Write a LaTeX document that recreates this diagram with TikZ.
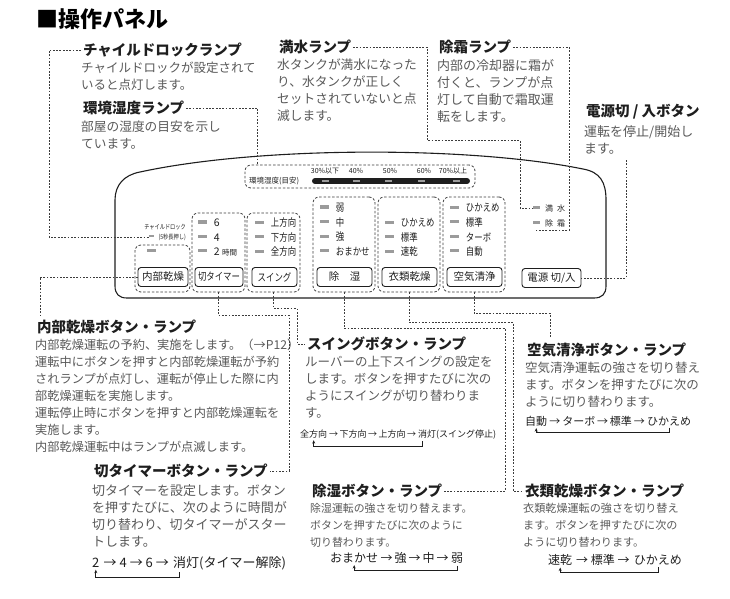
\documentclass[tikz,border=0pt]{standalone}
\usepackage{fontspec}
\setmainfont{Noto Sans CJK JP}
\usepackage{xcolor}
\usepackage{graphicx}
\usepackage{tikz}
\usetikzlibrary{arrows.meta,positioning,calc}
\definecolor{ink}{HTML}{1E1E1E}
\definecolor{txtgray}{HTML}{595959}
\definecolor{lampgray}{HTML}{9B9B9B}
\definecolor{leadgray}{HTML}{3C3C3C}
\newcommand\lampbar{{\color{lampgray}\rule[0.3em]{0.8em}{0.3em}}}
\newcommand\lamp{\lampbar\hspace{0.7em}}
\newcommand\narrow[1]{\scalebox{0.8}[1]{#1}}

\begin{document}
\begin{tikzpicture}[x=1pt,y=-1pt,
  every node/.style={inner sep=0pt},
  ttl/.style={anchor=west,text=black,font=\fontsize{22}{26}\selectfont\bfseries},
  hd/.style={anchor=west,text=ink,outer xsep=2pt,font=\fontsize{14.5}{17}\selectfont\bfseries},
  bd/.style={anchor=north west,align=left,text=txtgray,font=\fontsize{#1}{17}\selectfont},
  bd/.default=12.5,
  sq/.style={text=ink,outer ysep=2pt,font=\fontsize{#1}{14}\selectfont},
  sq/.default=12,
  lampitem/.style={anchor=west,text=ink,font=\fontsize{10.5}{12}\selectfont},
  grp/.style={draw=leadgray,line width=0.8pt,dash pattern=on 2.5pt off 1.8pt,rounded corners=6pt},
  btn/.style={draw=ink,line width=0.9pt,rounded corners=3pt,minimum height=19pt,inner xsep=2pt,text=ink,font=\fontsize{10.5}{12}\selectfont},
  lead/.style={draw=leadgray,line width=0.75pt,dash pattern=on 1.8pt off 1.5pt},
  back/.style={draw=ink,line width=0.8pt,-{Stealth[length=3.5pt,width=3pt]}},
  panel/.style={draw=ink,line width=1.1pt}
]
\useasboundingbox (0,0) rectangle (730,598);

\node[ttl] (title) at (36,19) {■操作パネル};

% upper texts
\node[hd] (hLock) at (81,50) {チャイルドロックランプ};
\node[bd] (tLock) at (81,62) {チャイルドロックが設定されて\\いると点灯します。};
\node[hd] (hHum) at (81,108) {環境湿度ランプ};
\node[bd=12.7] (tHum) at (81,121) {部屋の湿度の目安を示し\\ています。};
\node[hd] (hFull) at (277,47) {満水ランプ};
\node[bd=12.7] (tFull) at (277,59) {水タンクが満水になった\\り、水タンクが正しく\\セットされていないと点\\滅します。};
\node[hd] (hDef) at (437,47) {除霜ランプ};
\node[bd=13] (tDef) at (437,59) {内部の冷却器に霜が\\付くと、ランプが点\\灯して自動で霜取運\\転をします。};
\node[hd] (hPow) at (584,112) {電源切 / 入ボタン};
\node[bd=13] (tPow) at (584,125) {運転を停止/開始し\\ます。};

% panel
\draw[panel] (140,172) .. controls (260,146) and (470,146) .. (583,169)
  .. controls (600,172) and (606,182) .. (606,200) -- (606,286)
  .. controls (606,294) and (602,298) .. (594,298) -- (127,298)
  .. controls (119,298) and (115,294) .. (115,286) -- (115,200)
  .. controls (115,185) and (124,175) .. (140,172) -- cycle;

% humidity scale
\node[grp,minimum width=230pt,minimum height=23pt] (gHum) at (360,176.5) {};
\node[anchor=west,text=ink,font=\fontsize{7.5}{9}\selectfont] (humTxt) at (249,181) {環境湿度(目安)};
\draw[line width=6pt,line cap=round,ink] (315,181) -- (467,181);
\foreach \x/\lx/\t [count=\i] in {325/325/30\%以下,356.5/356/40\%,388.5/390/50\%,421.5/424/60\%,456.5/453/70\%以上}{
  \node[text=ink,font=\fontsize{7}{8}\selectfont] (hp\i) at (\lx,171) {\t};
  \draw[line width=2.2pt,lampgray] (\x-3.5,181) -- (\x+3.5,181);
}

% groups
\node[grp,minimum width=55pt,minimum height=47pt] (gDry) at (162.5,268.5) {};
\node[grp,minimum width=53pt,minimum height=79pt] (gTimer) at (218.5,252.5) {};
\node[grp,minimum width=53pt,minimum height=79pt] (gSwing) at (273.5,252.5) {};
\node[grp,minimum width=62pt,minimum height=95pt] (gDehum) at (344,244.5) {};
\node[grp,minimum width=62pt,minimum height=95pt] (gCloth) at (409,244.5) {};
\node[grp,minimum width=62pt,minimum height=95pt] (gAir) at (474,244.5) {};

% buttons
\node[btn,minimum width=50pt] (bDry) at (163,277) {内部乾燥};
\node[btn,minimum width=48pt] (bTimer) at (219,277) {\narrow{切タイマー}};
\node[btn,minimum width=45pt] (bSwing) at (274.5,277) {\narrow{スイング}};
\node[btn,minimum width=55pt] (bDehum) at (344.5,277) {除\hspace{1em}湿};
\node[btn,minimum width=55pt] (bCloth) at (409.5,277) {衣類乾燥};
\node[btn,minimum width=55pt] (bAir) at (474.5,277) {空気清浄};
\node[btn,minimum width=59pt] (bPow) at (551.5,278) {電源 切/入};

% lamps
\node[anchor=east,text=ink,font=\fontsize{6.5}{8}\selectfont] (clTxt) at (186,227) {\narrow{チャイルドロック}};
\node[anchor=east,text=ink,font=\fontsize{6.5}{8}\selectfont] (lLock) at (186,237) {\lamp\narrow{(5秒長押し)}};
\node[lampitem] (lDry) at (147,252) {\lampbar};
\foreach \t [count=\i] in {6,4,2 {\fontsize{7.5}{9}\selectfont 時間}}
  \node[lampitem] (tm\i) at (198,208.5+14.5*\i) {\lamp\t};
\foreach \t [count=\i] in {上方向,下方向,全方向}
  \node[lampitem] (sw\i) at (255,208.5+14.5*\i) {\lamp\narrow{\t}};
\foreach \t [count=\i] in {弱,中,強,おまかせ}
  \node[lampitem] (dh\i) at (320,193.5+14.5*\i) {\lamp\narrow{\t}};
\foreach \t [count=\i] in {ひかえめ,標準,速乾}
  \node[lampitem] (cl\i) at (385,208.5+14.5*\i) {\lamp\narrow{\t}};
\foreach \t [count=\i] in {ひかえめ,標準,ターボ,自動}
  \node[lampitem] (ar\i) at (450,193.5+14.5*\i) {\lamp\narrow{\t}};
\node[anchor=west,text=ink,font=\fontsize{8}{9}\selectfont] (lFull) at (533,208) {\lamp 満\hspace{0.5em}水};
\node[anchor=west,text=ink,outer ysep=2pt,font=\fontsize{8}{9}\selectfont] (lDef) at (533,223) {\lamp 除\hspace{0.5em}霜};

% lower texts
\node[hd] (hDry) at (35,327) {内部乾燥ボタン・ランプ};
\node[bd=12.2] (tDry) at (35,339) {内部乾燥運転の予約、実施をします。（→P12）\\運転中にボタンを押すと内部乾燥運転が予約\\されランプが点灯し、運転が停止した際に内\\部乾燥運転を実施します。\\運転停止時にボタンを押すと内部乾燥運転を\\実施します。\\内部乾燥運転中はランプが点滅します。};
\node[hd] (hSwing) at (305,344) {スイングボタン・ランプ};
\node[bd] (tSwing) at (305,356) {ルーバーの上下スイングの設定を\\します。ボタンを押すたびに次の\\ようにスイングが切り替わりま\\す。};
\node[hd] (hAir) at (525,350) {空気清浄ボタン・ランプ};
\node[bd] (tAir) at (525,362) {空気清浄運転の強さを切り替え\\ます。ボタンを押すたびに次の\\ように切り替わります。};
\node[hd] (hTimer) at (92,471) {切タイマーボタン・ランプ};
\node[bd=13] (tTimer) at (92,484) {切タイマーを設定します。ボタン\\を押すたびに、次のように時間が\\切り替わり、切タイマーがスター\\トします。};
\node[hd] (hDehum) at (310,491) {除湿ボタン・ランプ};
\node[bd=10.9] (tDehum) at (310,503) {除湿運転の強さを切り替えます。\\ボタンを押すたびに次のように\\切り替わります。};
\node[hd] (hCloth) at (523,491) {衣類乾燥ボタン・ランプ};
\node[bd=11.1] (tCloth) at (523,503) {衣類乾燥運転の強さを切り替え\\ます。ボタンを押すたびに次の\\ように切り替わります。};

% sequences
\node[sq=9,anchor=west] (qs1) at (300,434) {全方向};
\node[sq=9,anchor=base west] (qs2) at (qs1.base east) {\,→\,下方向\,→\,上方向\,→\,};
\node[sq=9,anchor=base west] (qs3) at (qs2.base east) {消灯(スイング停止)};
\draw[back] ([xshift=5pt]qs3.south west) -- ++(0,5) -| (qs1.south);

\node[sq=11,anchor=west] (qa1) at (525,421) {自動};
\node[sq=11,anchor=base west] (qa2) at (qa1.base east) {\,→\,ターボ\,→\,標準\,→\,};
\node[sq=11,anchor=base west] (qa3) at (qa2.base east) {ひかえめ};
\draw[back] (qa3.south) -- ++(0,5) -| (qa1.south);

\node[sq=13,anchor=west] (qt1) at (92,563) {2};
\node[sq=13,anchor=base west] (qt2) at (qt1.base east) {\hspace{0.3em}→ 4 → 6 →};
\node[sq=13,anchor=base west] (qt3) at ([xshift=4pt]qt2.base east) {消灯(タイマー解除)};
\draw[back] ([xshift=6pt]qt3.south west) -- ++(0,5) -| (qt1.south);

\node[sq,anchor=west] (qd1) at (330,558) {おまかせ};
\node[sq,anchor=base west] (qd2) at (qd1.base east) {\,→\,強\,→\,中\,→\,};
\node[sq,anchor=base west] (qd3) at (qd2.base east) {弱};
\draw[back] (qd3.south) -- ++(0,5) -| (qd1.south);

\node[sq,anchor=west] (qc1) at (548,560) {速乾};
\node[sq,anchor=base west] (qc2) at (qc1.base east) {\hspace{0.3em}→ 標準 →};
\node[sq,anchor=base west] (qc3) at ([xshift=4pt]qc2.base east) {ひかえめ};
\draw[back] (qc3.south) -- ++(0,5) -| (qc1.south);

% leader lines
\coordinate (cLock) at (49,237);
\draw[lead] (hLock.west) -| (cLock) -- (lLock.west);
\coordinate (cHum) at ($(gHum.north west)+(13,0)$);
\draw[lead] (hHum.east) -| (cHum);
\coordinate (cFullA) at (427,140);
\coordinate (cFullB) at (520,140);
\draw[lead] (hFull.east) -| (cFullA) -- (cFullB) |- (lFull.west);
\coordinate (cDef) at (569,230);
\draw[lead] (hDef.east) -| (cDef) -| ([xshift=3pt]lDef.south west);
\coordinate (cPow) at (626,160);
\draw[lead] (cPow) |- (bPow.east);
\coordinate (cDry) at ($(hDry.north west)+(5,-4)$);
\draw[lead] (bDry.west) -| (cDry);
\coordinate (cTimer) at (289,400);
\draw[lead] (gTimer.south) -- ++(0,23) -| (cTimer) |- (hTimer.east);
\coordinate (cSwing) at (297,330);
\draw[lead] (gSwing.south) -- ++(0,16) -| (cSwing) |- (hSwing.west);
\coordinate (cDehum) at (505,400);
\draw[lead] (gDehum.south) -- ++(0,36) -| (cDehum) |- (hDehum.east);
\coordinate (cCloth) at (513,400);
\draw[lead] (gCloth.south) -- ++(0,30) -| (cCloth) |- (hCloth.west);
\coordinate (cAir) at ($(hAir.north west)+(25,-5)$);
\draw[lead] (gAir.south) -- ++(0,21) -| (cAir);
\end{tikzpicture}
\end{document}
